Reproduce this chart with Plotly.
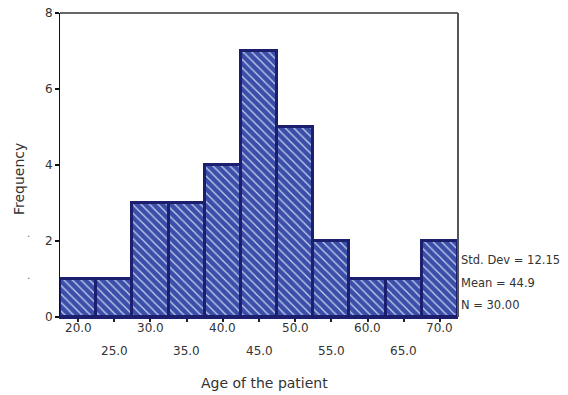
import plotly.graph_objects as go

# Data
bin_centers = [20, 25, 30, 35, 40, 45, 50, 55, 60, 65, 70]
frequencies = [1, 1, 3, 3, 4, 7, 5, 2, 1, 1, 2]
tick_labels = ["20.0", "25.0", "30.0", "35.0", "40.0", "45.0", "50.0", "55.0", "60.0", "65.0", "70.0"]
y_ticks = [0, 2, 4, 6, 8]
stats_lines = ["Std. Dev = 12.15", "Mean = 44.9", "N = 30.00"]
x_title = "Age of the patient"
y_title = "Frequency"

FONT = "DejaVu Sans, Liberation Sans, Arial, sans-serif"
TXT = "#333333"

fig = go.Figure()
fig.add_trace(go.Bar(
    x=bin_centers,
    y=frequencies,
    width=5,
    marker=dict(
        color="#3b4fa9",
        line=dict(color="#1b1f6d", width=3),
        pattern=dict(shape="\\", bgcolor="#3b4fa9", fgcolor="#c9d1f0",
                     size=6, solidity=0.2, fillmode="replace"),
    ),
    hoverinfo="skip",
))

annotations = []
# Two-row x tick labels
for i, (c, lab) in enumerate(zip(bin_centers, tick_labels)):
    annotations.append(dict(
        x=c, y=0, xref="x", yref="paper", text=lab, showarrow=False,
        yanchor="middle", xanchor="center",
        yshift=-11 if i % 2 == 0 else -34,
        font=dict(family=FONT, size=12, color=TXT),
    ))
# Stats text
for j, s in enumerate(stats_lines):
    annotations.append(dict(
        x=1, y=0, xref="paper", yref="paper", text=s, showarrow=False,
        xanchor="left", yanchor="middle", xshift=1,
        yshift=57 - 22.5 * j,
        font=dict(family=FONT, size=11.5, color=TXT),
    ))
# Axis titles
annotations.append(dict(
    x=0.5, y=0, xref="paper", yref="paper", text=x_title, showarrow=False,
    xanchor="center", yanchor="middle", yshift=-66, xshift=5,
    font=dict(family=FONT, size=14, color=TXT),
))
annotations.append(dict(
    x=0, y=0.5, xref="paper", yref="paper", text=y_title, showarrow=False,
    xanchor="center", yanchor="middle", xshift=-41, yshift=-14, textangle=-90,
    font=dict(family=FONT, size=14, color=TXT),
))
# small artifact dots at left
for yy in [2, 0.9]:
    annotations.append(dict(
        x=0, y=yy, xref="paper", yref="y", text=".", showarrow=False,
        xanchor="center", yanchor="bottom", xshift=-32,
        font=dict(family=FONT, size=10, color="#666666"),
    ))

fig.update_layout(
    width=568, height=395,
    margin=dict(l=60, r=110, t=13, b=78, autoexpand=False),
    paper_bgcolor="white", plot_bgcolor="white",
    showlegend=False,
    bargap=0,
    font=dict(family=FONT, size=12, color=TXT),
    annotations=annotations,
    xaxis=dict(
        range=[17.5, 72.5],
        tickvals=bin_centers,
        ticktext=[""] * len(bin_centers),
        ticks="outside", ticklen=3, tickcolor="#222222", tickwidth=2,
        showgrid=False, zeroline=False,
        showline=True, linecolor="#1b1f6d", linewidth=2, mirror=False,
        automargin=False,
        fixedrange=True,
    ),
    yaxis=dict(
        range=[0, 8],
        tickvals=y_ticks,
        ticks="outside", ticklen=4, tickcolor="#111111", tickwidth=2,
        showgrid=False, zeroline=False,
        showline=True, linecolor="#111111", linewidth=1,
        tickfont=dict(family=FONT, size=12, color=TXT),
        automargin=False,
        fixedrange=True,
    ),
    shapes=[
        dict(type="line", xref="paper", yref="paper", x0=0, x1=1, y0=1, y1=1,
             line=dict(color="#333333", width=1.5)),
        dict(type="line", xref="paper", yref="paper", x0=1, x1=1, y0=0, y1=1,
             line=dict(color="#555555", width=2)),
    ],
)

fig.write_html(
    "out.html",
    config={"displayModeBar": False},
    post_script="document.body.style.margin='0';document.body.style.padding='0';",
)
